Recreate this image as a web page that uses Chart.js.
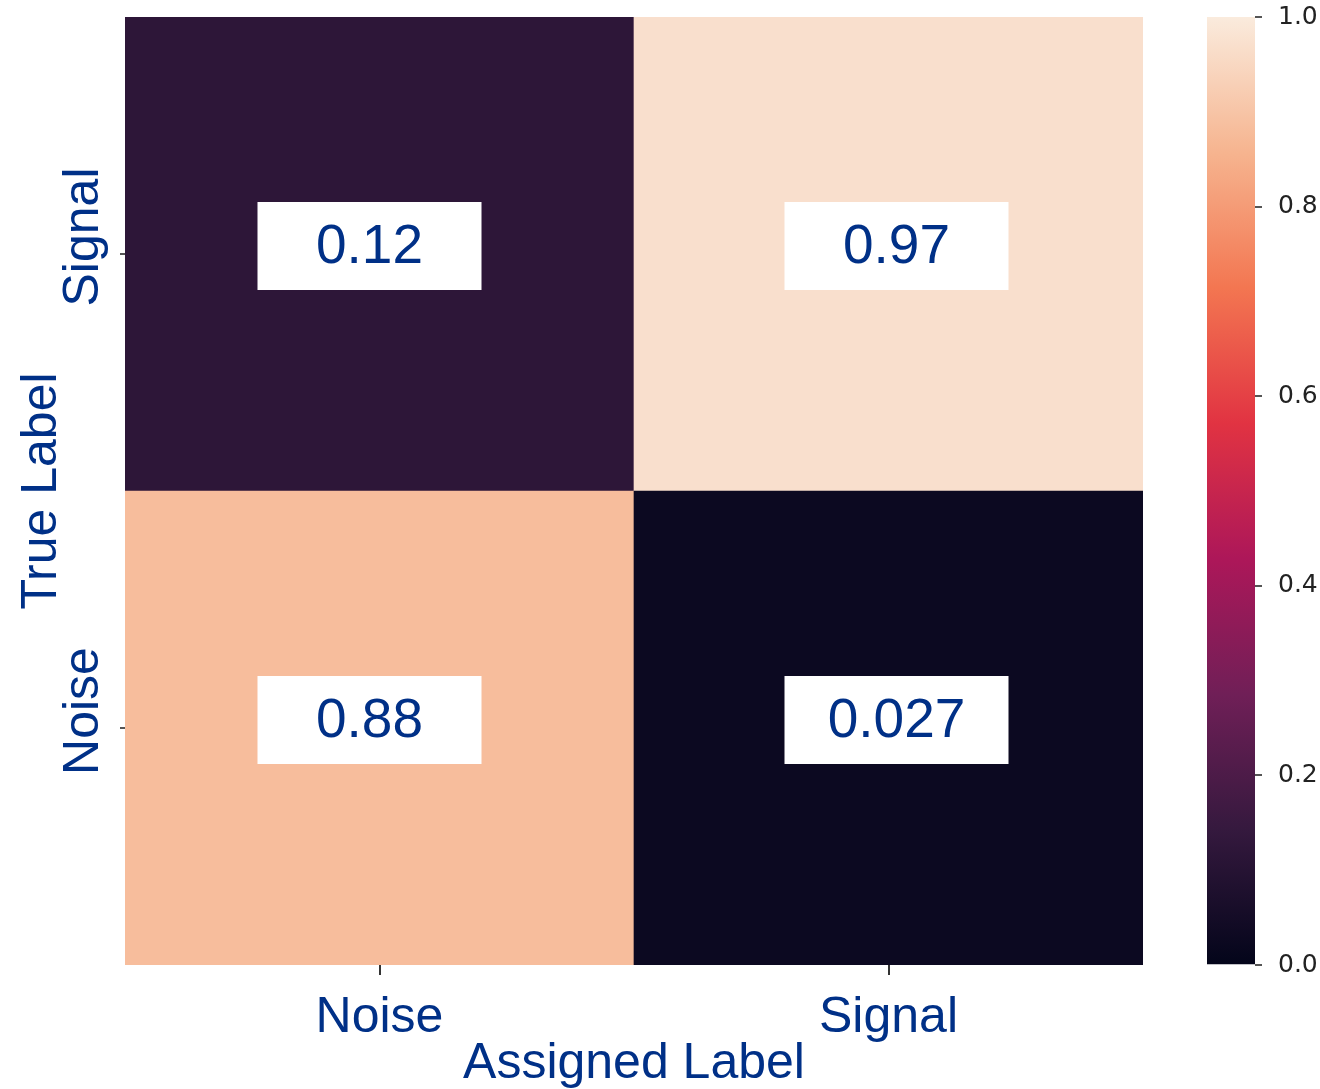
<!DOCTYPE html>
<html>
<head>
<meta charset="utf-8">
<script src="https://cdn.jsdelivr.net/npm/chart.js@4/dist/chart.umd.min.js"></script>
<style>
  html, body { margin: 0; padding: 0; background: #ffffff; }
  #wrap { position: relative; width: 1320px; height: 1089px; }
  #heat { position: absolute; left: 0; top: 0; }
  #bar { position: absolute; left: 1150px; top: 0; filter: blur(0.6px); }
</style>
</head>
<body>
<div id="wrap">
  <canvas id="heat" width="1320" height="1089"></canvas>
  <canvas id="bar" width="170" height="1089"></canvas>
</div>
<script>
// Confusion matrix: columns are assigned labels, rows are true labels
const assignedLabels = ['Noise', 'Signal'];
const trueLabels = ['Noise', 'Signal'];          // bottom row first
const noiseRow = [0.88, 0.027];                  // true Noise
const signalRow = [0.12, 0.97];                  // true Signal
const colorbarMin = 0;
const colorbarMax = 1;
const colorbarStep = 0.2;

// "rocket" colormap control points
const rocketStops = [
  [0.000, [3, 5, 26]],
  [0.143, [53, 25, 62]],
  [0.286, [112, 31, 87]],
  [0.429, [173, 23, 89]],
  [0.571, [225, 51, 66]],
  [0.714, [243, 118, 81]],
  [0.857, [246, 180, 143]],
  [1.000, [250, 235, 221]]
];

function rocket(v) {
  const t = Math.max(0, Math.min(1, v));
  for (let i = 1; i < rocketStops.length; i++) {
    const [p1, c1] = rocketStops[i];
    const [p0, c0] = rocketStops[i - 1];
    if (t <= p1) {
      const f = (t - p0) / (p1 - p0);
      const c = c0.map((a, k) => Math.round(a + (c1[k] - a) * f));
      return `rgb(${c[0]},${c[1]},${c[2]})`;
    }
  }
  const c = rocketStops[rocketStops.length - 1][1];
  return `rgb(${c[0]},${c[1]},${c[2]})`;
}

const FONT = '"Liberation Sans", Arial, Helvetica, sans-serif';
const LABEL_BLUE = '#003087';

// White boxed value labels in the middle of each cell
const cellLabels = {
  id: 'cellLabels',
  afterDatasetsDraw(chart) {
    const ctx = chart.ctx;
    ctx.save();
    ctx.font = `55px ${FONT}`;
    ctx.textAlign = 'center';
    ctx.textBaseline = 'middle';
    chart.data.datasets.forEach((ds, i) => {
      const meta = chart.getDatasetMeta(i);
      meta.data.forEach((el, j) => {
        const cx = el.x + (j === 0 ? -10 : 8);
        const cy = (el.y + el.base) / 2 - 8;
        ctx.fillStyle = '#ffffff';
        ctx.fillRect(cx - 112, cy - 44, 224, 88);
        ctx.fillStyle = LABEL_BLUE;
        ctx.fillText(String(ds.values[j]), cx, cy + 2);
      });
    });
    ctx.restore();
  }
};

// Vertical row labels on the left axis
const rowLabels = {
  id: 'rowLabels',
  afterDraw(chart) {
    const scale = chart.scales.y;
    const ctx = chart.ctx;
    ctx.save();
    ctx.font = `50px ${FONT}`;
    ctx.fillStyle = LABEL_BLUE;
    ctx.textAlign = 'center';
    ctx.textBaseline = 'alphabetic';
    scale.ticks.forEach((t, i) => {
      const y = scale.getPixelForValue(t.value) - 17;
      ctx.save();
      ctx.translate(98, y);
      ctx.rotate(-Math.PI / 2);
      ctx.fillText(trueLabels[i], 0, 0);
      ctx.restore();
    });
    ctx.restore();
  }
};

const whiteBg = {
  id: 'whiteBg',
  beforeDraw(chart) {
    const ctx = chart.ctx;
    ctx.save();
    ctx.fillStyle = '#ffffff';
    ctx.fillRect(0, 0, chart.width, chart.height);
    ctx.restore();
  }
};

new Chart(document.getElementById('heat'), {
  type: 'bar',
  data: {
    labels: assignedLabels,
    datasets: [
      { label: trueLabels[0], values: noiseRow, data: noiseRow.map(() => 1),
        backgroundColor: noiseRow.map(rocket), barPercentage: 1, categoryPercentage: 1, borderWidth: 0 },
      { label: trueLabels[1], values: signalRow, data: signalRow.map(() => 1),
        backgroundColor: signalRow.map(rocket), barPercentage: 1, categoryPercentage: 1, borderWidth: 0 }
    ]
  },
  options: {
    responsive: false,
    animation: false,
    events: [],
    layout: { padding: { top: 17, right: 177, left: 0, bottom: 0 } },
    plugins: { legend: { display: false }, tooltip: { enabled: false } },
    scales: {
      x: {
        stacked: true,
        grid: { display: true, drawOnChartArea: false, drawTicks: true, tickLength: 10, offset: false, color: '#333333', lineWidth: 2 },
        border: { display: false },
        ticks: { font: { family: FONT, size: 50 }, color: LABEL_BLUE, padding: 13, maxRotation: 0 },
        title: { display: true, text: 'Assigned Label', font: { family: FONT, size: 50, lineHeight: 1 }, color: LABEL_BLUE, padding: { top: 0, bottom: 0 } },
        afterFit(scale) { scale.height = 124; }
      },
      y: {
        stacked: true,
        min: 0,
        max: trueLabels.length,
        afterBuildTicks(scale) { scale.ticks = trueLabels.map((_, i) => ({ value: i + 0.5 })); },
        grid: { display: true, drawOnChartArea: false, drawTicks: true, tickLength: 5, color: '#555555', lineWidth: 2 },
        border: { display: false },
        ticks: { display: false },
        title: { display: true, text: 'True Label', font: { family: FONT, size: 50, lineHeight: 1 }, color: LABEL_BLUE, padding: { top: 17, bottom: 0 } },
        afterFit(scale) { scale.width = 125; }
      }
    }
  },
  plugins: [whiteBg, cellLabels, rowLabels]
});

// Colour bar
new Chart(document.getElementById('bar'), {
  type: 'bar',
  data: {
    labels: [''],
    datasets: [{
      data: [[colorbarMin, colorbarMax]],
      barPercentage: 1,
      categoryPercentage: 1,
      borderWidth: 0,
      backgroundColor(ctx) {
        const area = ctx.chart.chartArea;
        if (!area) return '#000';
        const g = ctx.chart.ctx.createLinearGradient(0, area.bottom, 0, area.top);
        rocketStops.forEach(([p, c]) => g.addColorStop(p, `rgb(${c[0]},${c[1]},${c[2]})`));
        return g;
      }
    }]
  },
  options: {
    responsive: false,
    animation: false,
    events: [],
    layout: { padding: { top: 17, left: 57, right: 0, bottom: 124 } },
    plugins: { legend: { display: false }, tooltip: { enabled: false } },
    scales: {
      x: { display: false },
      y: {
        position: 'right',
        min: colorbarMin,
        max: colorbarMax,
        ticks: {
          stepSize: colorbarStep,
          font: { family: '"DejaVu Sans", sans-serif', size: 25 },
          color: '#222222',
          padding: 16,
          callback: v => Number(v).toFixed(1)
        },
        grid: { drawOnChartArea: false, drawTicks: true, tickLength: 7, color: '#555555', lineWidth: 2 },
        border: { display: false },
        afterFit(scale) {
          scale.width = 65;
          scale.paddingTop = 0;
          scale.paddingBottom = 0;
        }
      }
    }
  }
});
</script>
</body>
</html>
